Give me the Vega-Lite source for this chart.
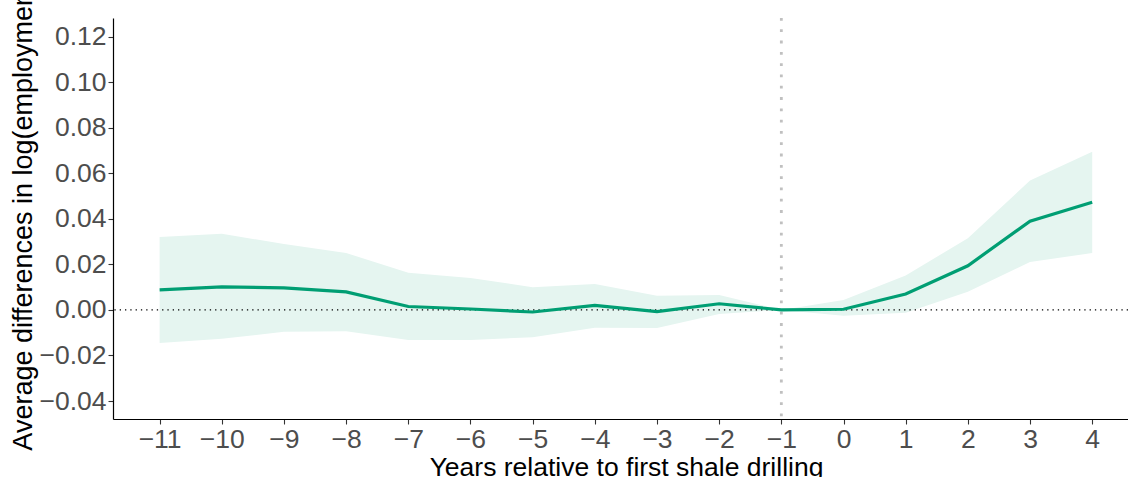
{
  "$schema": "https://vega.github.io/schema/vega-lite/v6.json",
  "width": 1015,
  "height": 401,
  "autosize": {"type": "none"},
  "padding": {"left": 113, "top": 18, "right": 0, "bottom": 58},
  "background": "white",
  "config": {
    "view": {"stroke": null},
    "font": "Liberation Sans",
    "axis": {
      "domainColor": "black",
      "domainWidth": 1.2,
      "tickColor": "#333333",
      "tickWidth": 1.1,
      "tickSize": 5,
      "labelColor": "#4d4d4d",
      "labelFontSize": 26.5,
      "labelFont": "Liberation Sans",
      "titleFont": "Liberation Sans",
      "titleFontSize": 26.5,
      "titleFontWeight": "normal",
      "titleColor": "black",
      "grid": false,
      "labelPadding": 2
    }
  },
  "data": {
    "values": [
      {"year": -11, "est": 0.0088, "lo": -0.0145, "hi": 0.0320},
      {"year": -10, "est": 0.0101, "lo": -0.0127, "hi": 0.0334},
      {"year": -9, "est": 0.0097, "lo": -0.0096, "hi": 0.0290},
      {"year": -8, "est": 0.0079, "lo": -0.0094, "hi": 0.0250},
      {"year": -7, "est": 0.0015, "lo": -0.0132, "hi": 0.0163},
      {"year": -6, "est": 0.0004, "lo": -0.0132, "hi": 0.0140},
      {"year": -5, "est": -0.0009, "lo": -0.0120, "hi": 0.0100},
      {"year": -4, "est": 0.0020, "lo": -0.0078, "hi": 0.0114},
      {"year": -3, "est": -0.0007, "lo": -0.0079, "hi": 0.0062},
      {"year": -2, "est": 0.0027, "lo": -0.0018, "hi": 0.0066},
      {"year": -1, "est": 0.0, "lo": 0.0, "hi": 0.0},
      {"year": 0, "est": 0.0003, "lo": -0.0026, "hi": 0.0044},
      {"year": 1, "est": 0.0070, "lo": -0.0012, "hi": 0.0151},
      {"year": 2, "est": 0.0194, "lo": 0.0080, "hi": 0.0315},
      {"year": 3, "est": 0.0390, "lo": 0.0210, "hi": 0.0568},
      {"year": 4, "est": 0.0473, "lo": 0.0250, "hi": 0.0695}
    ]
  },
  "layer": [
    {
      "mark": {"type": "area", "fill": "#e5f5f0"},
      "encoding": {
        "x": {
          "field": "year",
          "type": "quantitative",
          "scale": {"domain": [-11.75, 4.576], "nice": false, "zero": false},
          "axis": {
            "values": [-11, -10, -9, -8, -7, -6, -5, -4, -3, -2, -1, 0, 1, 2, 3, 4],
            "format": "d",
            "labelFlush": false,
            "labelOverlap": false,
            "title": "Years relative to first shale drilling",
            "titleX": 513,
            "titleY": 56,
            "titleBaseline": "alphabetic",
            "titleAlign": "center",
            "titleAnchor": null
          }
        },
        "y": {
          "field": "lo",
          "type": "quantitative",
          "scale": {"domain": [-0.0479, 0.1282], "nice": false, "zero": false},
          "axis": {
            "values": [-0.04, -0.02, 0, 0.02, 0.04, 0.06, 0.08, 0.1, 0.12],
            "format": ".2f",
            "labelFlush": false,
            "labelOverlap": false,
            "title": "Average differences in log(employment)",
            "titleFontSize": 27,
            "titleX": -82,
            "titleY": 194,
            "titleAngle": -90,
            "titleBaseline": "alphabetic",
            "titleAlign": "center"
          }
        },
        "y2": {"field": "hi"}
      }
    },
    {
      "data": {"values": [{}]},
      "mark": {"type": "rule", "color": "black", "strokeWidth": 1.3, "strokeDash": [1.3, 4]},
      "encoding": {"y": {"datum": 0, "type": "quantitative"}}
    },
    {
      "data": {"values": [{}]},
      "mark": {"type": "rule", "color": "#c0c0c0", "strokeWidth": 2.8, "strokeDash": [2.8, 8.5]},
      "encoding": {"x": {"datum": -1, "type": "quantitative"}}
    },
    {
      "mark": {"type": "line", "color": "#009E73", "strokeWidth": 3.2},
      "encoding": {
        "x": {"field": "year", "type": "quantitative", "title": "Years relative to first shale drilling"},
        "y": {"field": "est", "type": "quantitative", "title": "Average differences in log(employment)"}
      }
    }
  ]
}
